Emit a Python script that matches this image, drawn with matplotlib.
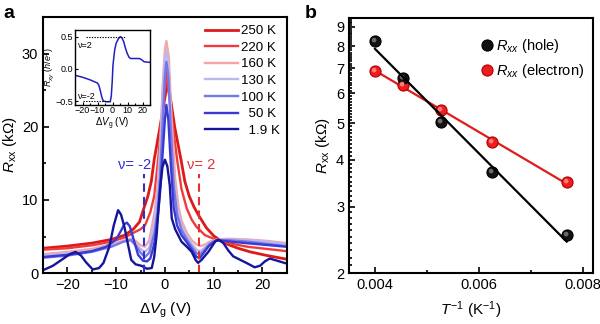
import numpy as np
import matplotlib
matplotlib.use("Agg")
import matplotlib.pyplot as plt
from matplotlib.path import Path
from matplotlib.ticker import MultipleLocator, FixedLocator, NullFormatter

plt.rcParams['font.family'] = ['Liberation Sans', 'DejaVu Sans']
plt.rcParams['mathtext.fontset'] = 'custom'
plt.rcParams['mathtext.rm'] = 'Liberation Sans'
plt.rcParams['mathtext.it'] = 'Liberation Sans:italic'
plt.rcParams['mathtext.bf'] = 'Liberation Sans:bold'

# ---------------- panel a: Rxx vs gate voltage ----------------
temps_a = ["250 K", "220 K", "160 K", "130 K", "100 K", "  50 K", "  1.9 K"]

vg_250 = [-25, -20, -15, -11, -8.2, -6.5, -5.2, -4.5, -3.5, -2.8, -2.2, -1.0, 0, 0.5, 1.0, 2.0, 3.3, 4.1, 5.0, 6.0, 7.0, 8.5, 10.0, 11.3, 13, 15, 17.5, 21, 25]
rxx_250 = [3.4, 3.7, 4.1, 4.6, 5.2, 6.0, 7.0, 8.5, 10.5, 12.5, 15.5, 20.0, 24.0, 25.8, 24.5, 20.0, 15.5, 12.5, 10.5, 9.0, 7.8, 6.2, 5.1, 4.5, 3.9, 3.4, 2.9, 2.4, 1.9]

vg_220 = [-25, -20, -15, -11, -8.2, -6.5, -5, -4.1, -3, -2.2, -1.4, -0.5, 0.3, 1.0, 2.5, 3.4, 4.5, 5.5, 6.5, 8.2, 10.7, 13, 17, 21, 25]
rxx_220 = [3.2, 3.4, 3.8, 4.3, 4.9, 5.5, 6.0, 6.5, 8.3, 10.5, 15.5, 22.0, 27.4, 23.5, 15.5, 11.5, 8.8, 7.3, 6.3, 5.2, 4.5, 4.1, 3.6, 3.3, 3.0]

vg_160 = [-25, -20, -15, -11, -8.5, -7, -6, -5, -4.1, -3.2, -2.1, -1.5, -1, -0.5, 0, 0.3, 0.8, 1.3, 2.1, 2.8, 3.4, 4.5, 5.5, 6.5, 7.3, 8.2, 9.2, 10.7, 13, 17, 21, 25]
rxx_160 = [2.6, 2.9, 3.3, 4.0, 4.4, 4.7, 4.4, 3.8, 3.6, 4.5, 8.4, 12.0, 17.0, 25.0, 30.5, 31.7, 29.5, 22.0, 13.0, 9.0, 7.2, 5.5, 4.5, 3.9, 3.7, 3.9, 4.3, 4.6, 4.7, 4.6, 4.4, 4.1]

vg_130 = [-25, -20, -15, -11, -8.5, -7, -6, -5, -4.1, -3.2, -2.1, -1.5, -1, -0.5, 0, 0.3, 0.7, 1.2, 1.8, 2.5, 3.4, 4.5, 5.5, 6.5, 7.3, 8.2, 9.2, 10.7, 13, 17, 21, 25]
rxx_130 = [2.4, 2.7, 3.1, 3.8, 4.4, 4.6, 4.0, 3.3, 2.9, 3.5, 7.0, 10.5, 16.0, 24.0, 29.5, 30.3, 28.5, 21.0, 13.0, 9.0, 6.5, 5.0, 4.0, 3.2, 3.0, 3.5, 4.1, 4.5, 4.6, 4.5, 4.3, 4.0]

vg_100 = [-25, -20, -15, -11, -8.5, -7, -6, -5, -4.1, -3.2, -2.1, -1.5, -1, -0.5, 0, 0.3, 0.7, 1.2, 1.8, 2.5, 3.4, 4.5, 5.5, 6.5, 7.3, 8.2, 9.2, 10.7, 13, 17, 21, 25]
rxx_100 = [2.1, 2.4, 2.9, 3.6, 4.3, 4.5, 3.8, 2.8, 2.2, 2.8, 5.6, 8.5, 13.0, 20.0, 27.0, 28.9, 27.0, 20.0, 12.0, 8.0, 5.9, 4.6, 3.6, 2.7, 2.6, 3.2, 4.0, 4.5, 4.5, 4.3, 4.0, 3.7]

vg_50 = [-25, -20, -15, -12, -10, -9, -8.3, -7.8, -7.2, -6.5, -5.5, -4.5, -3.7, -3.0, -2.5, -2.1, -1.5, -1.0, -0.5, 0, 0.3, 0.7, 1.2, 1.8, 2.5, 3.4, 4.5, 5.5, 6.5, 7.2, 8, 9, 10.5, 12, 15, 20, 25]
rxx_50 = [2.2, 2.5, 3.0, 3.6, 4.6, 5.8, 6.7, 6.9, 6.4, 4.8, 2.5, 1.7, 1.6, 2.0, 3.2, 4.3, 7.5, 11.0, 16.0, 21.0, 23.0, 21.0, 15.0, 9.0, 6.5, 5.2, 4.2, 3.2, 2.2, 2.1, 2.8, 3.7, 4.5, 4.4, 4.2, 3.9, 3.6]

vg_2 = [-25, -23, -21, -19.5, -18.3, -17.2, -16.2, -14.8, -13.5, -12.6, -11.4, -10.5, -9.6, -9.0, -8.3, -7.6, -6.9, -6.0, -4.8, -3.7, -2.7, -2.2, -1.7, -1.4, -1.0, -0.5, 0, 0.5, 1.0, 1.4, 2.1, 3.4, 4.5, 5.5, 6.3, 6.8, 7.5, 8.9, 10.3, 11.0, 12, 13, 14, 15.5, 17, 18.4, 19.5, 20.5, 21.5, 23, 25]
rxx_2 = [0.4, 1.0, 1.9, 2.6, 2.9, 2.4, 1.5, 0.5, 0.7, 1.4, 3.6, 6.5, 8.6, 8.0, 6.3, 4.0, 1.8, 1.2, 1.0, 0.6, 0.7, 2.2, 5.2, 8.0, 11.5, 14.5, 15.5, 14.6, 12.0, 7.5, 6.0, 4.3, 3.6, 2.9, 1.8, 1.4, 1.8, 2.9, 4.3, 4.6, 4.1, 3.1, 2.3, 1.8, 1.3, 0.8, 1.0, 1.6, 2.0, 1.7, 1.3]

colors_a = ["#dc1a1a", "#ee3c3c", "#f4a6a6", "#b9b9f0", "#7676e6", "#3a3ad2", "#15159c"]
widths_a = [2.0, 1.7, 1.7, 1.7, 1.7, 1.7, 1.7]
curves_a = [(vg_250, rxx_250), (vg_220, rxx_220), (vg_160, rxx_160), (vg_130, rxx_130),
            (vg_100, rxx_100), (vg_50, rxx_50), (vg_2, rxx_2)]

# inset: Hall resistance at low temperature
vg_hall = [-25, -20, -15, -12, -10, -9, -8, -7, -6, -4, -1.5, -0.8, -0.2, 0.3, 0.9, 1.5, 2.5, 4, 5.3, 6.5, 7.5, 8.5, 9.8, 11, 12, 15, 18, 19.5, 21, 25]
rxy_hall = [-0.10, -0.13, -0.17, -0.20, -0.22, -0.26, -0.35, -0.45, -0.50, -0.51, -0.51, -0.42, -0.20, 0.05, 0.18, 0.30, 0.40, 0.47, 0.50, 0.47, 0.42, 0.33, 0.24, 0.18, 0.16, 0.16, 0.16, 0.14, 0.11, 0.10]

# filling factor markers
nu_labels = ["\u03bd= -2", "\u03bd= 2"]
nu_positions = [-4.2, 7.0]
nu_colors = ["#2f2fd0", "#e63030"]

# ---------------- panel b: activation plot ----------------
inv_T = [1 / 250, 1 / 220, 1 / 190, 1 / 160, 1 / 130]
rxx_hole = [8.26, 6.58, 5.04, 3.70, 2.52]
rxx_electron = [6.88, 6.30, 5.42, 4.46, 3.48]

fig = plt.figure(figsize=(6.0, 3.24), dpi=100)

# ===== panel a =====
ax = fig.add_axes([0.0717, 0.157, 0.4063, 0.7905])
for (vx, vy), c, lw, lab in zip(curves_a, colors_a, widths_a, temps_a):
    ax.plot(vx, vy, color=c, lw=lw, label=lab)

for xv, c in zip(nu_positions, nu_colors):
    ax.plot([xv, xv], [0, 13.6], color=c, lw=1.5, ls=(0, (4, 2.5)))
ax.text(nu_positions[0] - 2.0, 14.8, nu_labels[0], color=nu_colors[0], fontsize=10.5,
        ha='center', va='center')
ax.text(nu_positions[1] + 0.4, 14.8, nu_labels[1], color=nu_colors[1], fontsize=10.5,
        ha='center', va='center')

ax.set_xlim(-25, 25)
ax.set_ylim(0, 35)
ax.xaxis.set_major_locator(MultipleLocator(10))
ax.xaxis.set_minor_locator(MultipleLocator(5))
ax.yaxis.set_major_locator(MultipleLocator(10))
ax.yaxis.set_minor_locator(MultipleLocator(5))
ax.tick_params(which='both', direction='in', labelsize=10.5, width=1.2)
ax.tick_params(which='major', length=4)
ax.tick_params(which='minor', length=2.5)
for s in ax.spines.values():
    s.set_linewidth(1.5)
ax.set_xlabel(r"$\Delta V_{\rm g}$ (V)", fontsize=11, labelpad=6)
ax.set_ylabel(r"$R_{\rm xx}$ (k$\Omega$)", fontsize=11, labelpad=2)

leg = ax.legend(loc='upper right', frameon=False, fontsize=9.6, handlelength=2.45,
                handletextpad=0.25, labelspacing=0.32, borderaxespad=0.1,
                bbox_to_anchor=(1.0, 0.995))

# inset
axi = fig.add_axes([0.125, 0.676, 0.125, 0.231])
axi.plot(vg_hall, rxy_hall, color="#2020c0", lw=1.1)
axi.plot([-18, 9], [0.5, 0.5], color='k', lw=0.8, ls=(0, (1.2, 1.2)))
axi.plot([-20, -2], [-0.5, -0.5], color='k', lw=0.8, ls=(0, (1.2, 1.2)))
axi.text(-23, 0.36, "\u03bd=2", fontsize=6.5, va='center', ha='left')
axi.text(-23, -0.43, "\u03bd=-2", fontsize=6.5, va='center', ha='left')
axi.set_xlim(-25, 25)
axi.set_ylim(-0.56, 0.6)
axi.set_xticks([-20, -10, 0, 10, 20])
axi.set_yticks([-0.5, 0.0, 0.5])
axi.xaxis.set_minor_locator(MultipleLocator(5))
axi.tick_params(which='both', direction='in', labelsize=6.5, pad=1, width=0.8)
axi.tick_params(which='major', length=2.5)
axi.tick_params(which='minor', length=1.5)
for s in axi.spines.values():
    s.set_linewidth(1.0)
axi.set_xlabel(r"$\Delta V_{\rm g}$ (V)", fontsize=7, labelpad=0)
axi.set_ylabel(r"$R_{xy}$ ($h$/$e^2$)", fontsize=6.5, labelpad=0)

# ===== panel b =====
bx = fig.add_axes([0.5817, 0.157, 0.4067, 0.787])
x_fit = np.array([inv_T[0], inv_T[-1]])
k_h, b_h = np.polyfit(inv_T, np.log(rxx_hole), 1)
k_e, b_e = np.polyfit(inv_T, np.log(rxx_electron), 1)

# small glossy spot drawn on top of each circular marker
spot = Path.circle(center=(-0.25, 0.25), radius=0.42)
spot_marker = Path(np.concatenate([[[-1.0, -1.0], [1.0, 1.0]], spot.vertices]),
                   np.concatenate([[Path.MOVETO, Path.MOVETO], spot.codes]))

bx.plot(x_fit, np.exp(k_e * x_fit + b_e), color="#e01b1b", lw=1.6, zorder=2)
bx.plot(inv_T, rxx_electron, 'o', ms=8, color="#ee1c1c", mec="#b00000", mew=0.8,
        label=r"$R_{xx}$ (electron)", zorder=3)
bx.plot(inv_T, rxx_electron, ls='none', marker=spot_marker, ms=8, mfc="#ff7a7a",
        mew=0, zorder=3.1)
bx.plot(inv_T, rxx_hole, 'o', ms=8, color="#111111", mec="#000000", mew=0.8,
        label=r"$R_{xx}$ (hole)", zorder=3)
bx.plot(inv_T, rxx_hole, ls='none', marker=spot_marker, ms=8, mfc="#6a6a6a",
        mew=0, zorder=3.1)
bx.plot(x_fit, np.exp(k_h * x_fit + b_h), color="k", lw=1.6, zorder=4)

bx.set_yscale('log')
bx.set_xlim(0.0035, 0.0082)
bx.set_ylim(2, 9.5)
bx.xaxis.set_major_locator(FixedLocator([0.004, 0.006, 0.008]))
bx.xaxis.set_minor_locator(FixedLocator([0.005, 0.007]))
bx.set_xticklabels(["0.004", "0.006", "0.008"])
bx.yaxis.set_major_locator(FixedLocator([2, 3, 4, 5, 6, 7, 8, 9]))
bx.set_yticklabels(["2", "3", "4", "5", "6", "7", "8", "9"])
minor_y = [v / 10 for v in range(21, 95) if v % 10 != 0]
bx.yaxis.set_minor_locator(FixedLocator(minor_y))
bx.yaxis.set_minor_formatter(NullFormatter())
bx.tick_params(which='both', direction='in', labelsize=10.5, width=1.2)
bx.tick_params(which='major', length=4)
bx.tick_params(which='minor', length=2)
for s in bx.spines.values():
    s.set_linewidth(1.5)
bx.set_xlabel(r"$T^{-1}$ (K$^{-1}$)", fontsize=11, labelpad=5)
bx.set_ylabel(r"$R_{\rm xx}$ (k$\Omega$)", fontsize=11, labelpad=3)

handles, labels = bx.get_legend_handles_labels()
bx.legend(handles[::-1], labels[::-1], loc='upper right', frameon=False, fontsize=10.5,
          handlelength=0.6, handletextpad=0.3, labelspacing=0.45, borderaxespad=0.2,
          bbox_to_anchor=(1.0, 0.96))

fig.text(0.005, 0.985, "a", fontsize=14, fontweight='bold', va='top', ha='left')
fig.text(0.508, 0.985, "b", fontsize=14, fontweight='bold', va='top', ha='left')

fig.savefig("out.png", dpi=100)
